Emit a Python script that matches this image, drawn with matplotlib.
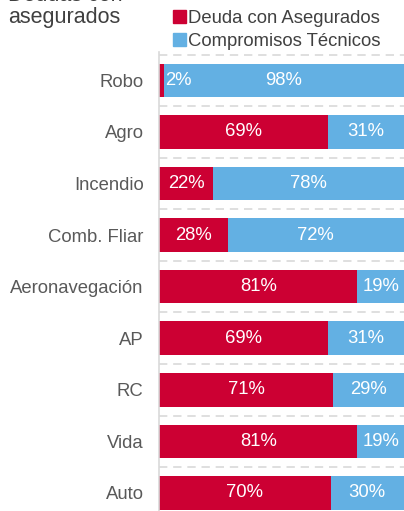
import numpy as np
import matplotlib.pyplot as plt
from matplotlib.patches import Patch

plt.rcParams['font.family'] = ['Liberation Sans', 'DejaVu Sans']

# datos (de abajo hacia arriba)
ramos = ["Auto", "Vida", "RC", "AP", "Aeronavegación", "Comb. Fliar",
         "Incendio", "Agro", "Robo"]
deuda = [70, 81, 71, 69, 81, 28, 22, 69, 2]
compromisos = [30, 19, 29, 31, 19, 72, 78, 31, 98]

rojo = "#CC0033"
azul = "#63B0E3"
gris = "#595959"

fig = plt.figure(figsize=(4.04, 5.11), dpi=100)
ax = fig.add_axes([159 / 404, 0, 245 / 404, 459 / 511])

y = np.arange(len(ramos))
ax.barh(y, deuda, height=0.65, color=rojo)
ax.barh(y, compromisos, left=deuda, height=0.65, color=azul)

for yi, d, c in zip(y, deuda, compromisos):
    if d < 5:
        ax.text(d + 0.5, yi, f"{d}%", ha="left", va="center", color="white", fontsize=13.3)
    else:
        ax.text(d / 2, yi, f"{d}%", ha="center", va="center", color="white", fontsize=13.3)
    ax.text(d + c / 2, yi, f"{c}%", ha="center", va="center", color="white", fontsize=13.3)

# lineas punteadas entre barras
for g in np.arange(len(ramos)) + 0.5:
    ax.axhline(g, color="#D9D9D9", lw=1.2, ls=(0, (5, 3.5)), zorder=0)

ax.set_xlim(0, 100)
ax.set_ylim(-0.35, 8.55)
ax.set_yticks(y)
ax.set_yticklabels(ramos, fontsize=13.3, color=gris)
ax.tick_params(axis="y", length=0, pad=11)
ax.set_xticks([])
for s in ["top", "right", "bottom"]:
    ax.spines[s].set_visible(False)
ax.spines["left"].set_color("#D9D9D9")
ax.spines["left"].set_linewidth(1.2)

# titulo (la primera linea queda cortada por el borde superior)
fig.text(8 / 404, 1 + 5 / 511, "Deudas con", ha="left", va="center",
         fontsize=15.5, color="#404040")
fig.text(8 / 404, 1 - 17 / 511, "asegurados", ha="left", va="center",
         fontsize=15.5, color="#404040")

handles = [Patch(color=rojo), Patch(color=azul)]
fig.legend(handles, ["Deuda con Asegurados", "Compromisos Técnicos"],
           loc="upper left", bbox_to_anchor=(166 / 404, 1 - 3 / 511), frameon=False,
           fontsize=13.3, handlelength=0.7, handleheight=0.7, handletextpad=0.1,
           labelspacing=0.3, borderaxespad=0, labelcolor="#404040")

fig.savefig("out.png", dpi=100)
